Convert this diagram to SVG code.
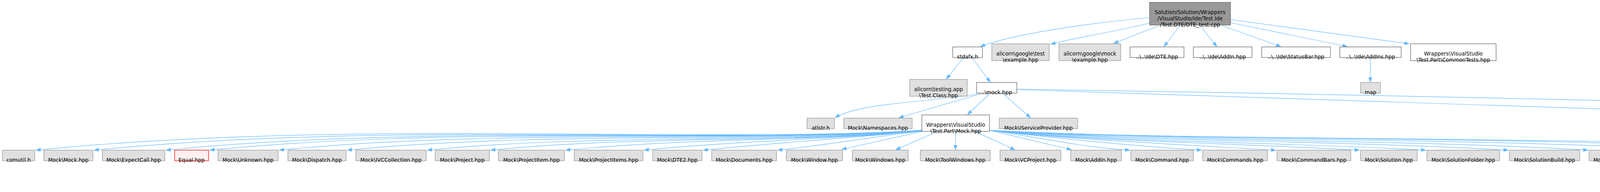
<svg xmlns="http://www.w3.org/2000/svg" width="5907" height="491" viewBox="0 0 5907 491">
<style>
.t{font-family:"DejaVu Sans","Liberation Sans",sans-serif;font-size:13.33px;fill:#000;text-anchor:middle}
.w{fill:#fff;stroke:#666;stroke-width:1.3}
.g{fill:#e0e0e0;stroke:#999;stroke-width:1.3}
.r{fill:#fff0f0;stroke:#f00;stroke-width:1.3}
.root{fill:#999;stroke:#666;stroke-width:1.3}
.e{fill:none;stroke:#63b8ff;stroke-width:1.2;marker-end:url(#a)}
</style>
<defs>
<marker id="a" markerWidth="13" markerHeight="10" refX="12" refY="5" orient="auto" markerUnits="userSpaceOnUse"><path d="M0,0.8 L12,5 L0,9.2 z" fill="#63b8ff" stroke="#63b8ff" stroke-width="1"/></marker>
</defs>
<rect width="5907" height="491" fill="#fff"/>
<g id="edges">
<path class="e" d="M2943,45 C2800,58 2600,85 2510,119"/>
<path class="e" d="M2943,59 C2860,80 2760,95 2690,113"/>
<path class="e" d="M2966,66 L2851,111"/>
<path class="e" d="M3020,65 L2980,119"/>
<path class="e" d="M3072,65 L3115,119"/>
<path class="e" d="M3127,65 L3279,119"/>
<path class="e" d="M3150,58 L3449,119"/>
<path class="e" d="M3150,50 L3607,112"/>
<path class="e" d="M2466,148 L2423,202"/>
<path class="e" d="M2489,148 L2535,210"/>
<path class="e" d="M3508,147 L3508,210"/>
<path class="e" d="M2512,239 C2380,262 2200,262 2138,301"/>
<path class="e" d="M2510,240 L2301,301"/>
<path class="e" d="M2533,240 L2477,293"/>
<path class="e" d="M2566,238 L2638,301"/>
<path class="e" d="M2603,229 L5022,309"/>
<path class="e" d="M2603,228 C4000,250 5200,282 5292,301"/>
<path class="e" d="M2360,333 C1793,368 886,304 92,384"/>
<path class="e" d="M2360,333 C1830,368 983,310 241,384"/>
<path class="e" d="M2360,333 C1876,368 1102,316 425,384"/>
<path class="e" d="M2360,333 C1904,368 1175,320 537,384"/>
<path class="e" d="M2360,333 C1949,368 1291,326 715,384"/>
<path class="e" d="M2360,333 C1992,368 1404,333 889,384"/>
<path class="e" d="M2360,333 C2044,368 1537,340 1094,384"/>
<path class="e" d="M2360,334 C2084,366 1642,345 1256,384"/>
<path class="e" d="M2360,334 C2132,360 1767,352 1448,384"/>
<path class="e" d="M2360,335 C2182,354 1898,359 1649,384"/>
<path class="e" d="M2360,335 C2220,350 1996,364 1800,384"/>
<path class="e" d="M2360,336 C2268,344 2120,371 1991,384"/>
<path class="e" d="M2362,336 L2155,382"/>
<path class="e" d="M2398,337 L2293,383"/>
<path class="e" d="M2446,336 L2446,383"/>
<path class="e" d="M2498,337 L2598,383"/>
<path class="e" d="M2533,333 L2743,383"/>
<path class="e" d="M2531,333 C2621,344 2766,377 2892,384"/>
<path class="e" d="M2531,333 C2667,349 2885,373 3076,384"/>
<path class="e" d="M2531,333 C2715,355 3009,369 3266,384"/>
<path class="e" d="M2531,333 C2768,361 3148,365 3480,384"/>
<path class="e" d="M2531,333 C2811,363 3258,362 3650,384"/>
<path class="e" d="M2531,333 C2864,363 3395,357 3861,384"/>
<path class="e" d="M2531,333 C2915,363 3528,353 4065,384"/>
<path class="e" d="M2531,333 C2980,363 3698,348 4326,384"/>
<path class="e" d="M2531,333 C3037,363 3847,344 4555,384"/>
<path class="e" d="M2531,333 C3093,363 3991,344 4777,384"/>
<path class="e" d="M5105,337 L5046,383"/>
<path class="e" d="M5170,337 L5240,383"/>
<path class="e" d="M5221,337 L5420,384"/>
<path class="e" d="M5247,335 L5636,384"/>
<path class="e" d="M5135,337 C5140,420 5190,448 5402,466"/>
<path class="e" d="M5480,411 L5480,458"/>
<path class="e" d="M5703,412 L5532,459"/>
</g>
<g id="n_root"><rect class="root" x="2943" y="6" width="207" height="58"/><text class="t" x="3046.5" y="35.5">Solution/Solution/Wrappers</text><text class="t" x="3046.5" y="51.5">/VisualStudio/Ide/Test.Ide</text><text class="t" x="3046.5" y="67.5">/Test.DTE/DTE_test.cpp</text></g>
<g id="n_stdafx"><rect class="w" x="2439" y="120" width="76" height="27"/><text class="t" x="2477" y="150">stdafx.h</text></g>
<g id="n_gtest"><rect class="g" x="2539" y="112" width="147" height="43"/><text class="t" x="2612.5" y="142">alicorn\google\test</text><text class="t" x="2612.5" y="158">\example.hpp</text></g>
<g id="n_gmock"><rect class="g" x="2711" y="112" width="158" height="43"/><text class="t" x="2790" y="142">alicorn\google\mock</text><text class="t" x="2790" y="158">\example.hpp</text></g>
<g id="n_idedte"><rect class="w" x="2893" y="120" width="138" height="27"/><text class="t" x="2962" y="150">..\..\Ide\DTE.hpp</text></g>
<g id="n_ideaddin"><rect class="w" x="3055" y="120" width="150" height="27"/><text class="t" x="3130" y="150">..\..\Ide\AddIn.hpp</text></g>
<g id="n_idestatusbar"><rect class="w" x="3230" y="120" width="176" height="27"/><text class="t" x="3318" y="150">..\..\Ide\StatusBar.hpp</text></g>
<g id="n_ideaddins"><rect class="w" x="3430" y="120" width="157" height="27"/><text class="t" x="3508.5" y="150">..\..\Ide\AddIns.hpp</text></g>
<g id="n_commontests"><rect class="w" x="3611" y="112" width="219" height="43"/><text class="t" x="3720.5" y="142">Wrappers\VisualStudio</text><text class="t" x="3720.5" y="158">\Test.Part\CommonTests.hpp</text></g>
<g id="n_testclass"><rect class="g" x="2329" y="203" width="147" height="43"/><text class="t" x="2402.5" y="233">alicorn\testing.app</text><text class="t" x="2402.5" y="249">\Test.Class.hpp</text></g>
<g id="n_mockhpp"><rect class="w" x="2500" y="211" width="103" height="27"/><text class="t" x="2551.5" y="241">..\mock.hpp</text></g>
<g id="n_map"><rect class="g" x="3483" y="211" width="51" height="27"/><text class="t" x="3508.5" y="241">map</text></g>
<g id="n_atlstr"><rect class="g" x="2066" y="302" width="70" height="27"/><text class="t" x="2101" y="332">atlstr.h</text></g>
<g id="n_namespaces"><rect class="g" x="2160" y="302" width="175" height="27"/><text class="t" x="2247.5" y="332">Mock\Namespaces.hpp</text></g>
<g id="n_partmock"><rect class="w" x="2360" y="294" width="173" height="42"/><text class="t" x="2446.5" y="323.5">Wrappers\VisualStudio</text><text class="t" x="2446.5" y="339.5">\Test.Part\Mock.hpp</text></g>
<g id="n_isp"><rect class="g" x="2558" y="302" width="201" height="27"/><text class="t" x="2658.5" y="332">Mock\IServiceProvider.hpp</text></g>
<g id="n_commonmock"><rect class="w" x="5024" y="294" width="223" height="42"/><text class="t" x="5135.5" y="323.5">Wrappers\VisualStudio</text><text class="t" x="5135.5" y="339.5">\Common\Common.mock.hpp</text></g>
<g id="n_mockstatusbar"><rect class="g" x="5272" y="302" width="157" height="27"/><text class="t" x="5350.5" y="332">Mock\StatusBar.hpp</text></g>
<g id="n_comutil"><rect class="g" x="6" y="384" width="83" height="27"/><text class="t" x="47.5" y="414">comutil.h</text></g>
<g id="n_mock"><rect class="g" x="112" y="384" width="126" height="27"/><text class="t" x="175" y="414">Mock\Mock.hpp</text></g>
<g id="n_expectcall"><rect class="g" x="262" y="384" width="160" height="27"/><text class="t" x="342" y="414">Mock\ExpectCall.hpp</text></g>
<g id="n_equal"><rect class="r" x="447" y="384" width="87" height="27"/><text class="t" x="490.5" y="414">Equal.hpp</text></g>
<g id="n_unknown"><rect class="g" x="558" y="384" width="154" height="27"/><text class="t" x="635" y="414">Mock\Unknown.hpp</text></g>
<g id="n_dispatch"><rect class="g" x="737" y="384" width="149" height="27"/><text class="t" x="811.5" y="414">Mock\Dispatch.hpp</text></g>
<g id="n_ivccollection"><rect class="g" x="911" y="384" width="180" height="27"/><text class="t" x="1001" y="414">Mock\IVCCollection.hpp</text></g>
<g id="n_project"><rect class="g" x="1114" y="384" width="139" height="27"/><text class="t" x="1183.5" y="414">Mock\Project.hpp</text></g>
<g id="n_projectitem"><rect class="g" x="1276" y="384" width="169" height="27"/><text class="t" x="1360.5" y="414">Mock\ProjectItem.hpp</text></g>
<g id="n_projectitems"><rect class="g" x="1470" y="384" width="176" height="27"/><text class="t" x="1558" y="414">Mock\ProjectItems.hpp</text></g>
<g id="n_dte2"><rect class="g" x="1671" y="384" width="126" height="27"/><text class="t" x="1734" y="414">Mock\DTE2.hpp</text></g>
<g id="n_documents"><rect class="g" x="1822" y="384" width="166" height="27"/><text class="t" x="1905" y="414">Mock\Documents.hpp</text></g>
<g id="n_window"><rect class="g" x="2013" y="384" width="144" height="27"/><text class="t" x="2085" y="414">Mock\Window.hpp</text></g>
<g id="n_windows"><rect class="g" x="2182" y="384" width="143" height="27"/><text class="t" x="2253.5" y="414">Mock\Windows.hpp</text></g>
<g id="n_toolwindows"><rect class="g" x="2356" y="384" width="179" height="27"/><text class="t" x="2445.5" y="414">Mock\ToolWindows.hpp</text></g>
<g id="n_vcproject"><rect class="g" x="2560" y="384" width="156" height="27"/><text class="t" x="2638" y="414">Mock\VCProject.hpp</text></g>
<g id="n_addin"><rect class="g" x="2741" y="384" width="130" height="27"/><text class="t" x="2806" y="414">Mock\AddIn.hpp</text></g>
<g id="n_command"><rect class="g" x="2895" y="384" width="160" height="27"/><text class="t" x="2975" y="414">Mock\Command.hpp</text></g>
<g id="n_commands"><rect class="g" x="3079" y="384" width="166" height="27"/><text class="t" x="3162" y="414">Mock\Commands.hpp</text></g>
<g id="n_commandbars"><rect class="g" x="3269" y="384" width="189" height="27"/><text class="t" x="3363.5" y="414">Mock\CommandBars.hpp</text></g>
<g id="n_solution"><rect class="g" x="3483" y="384" width="145" height="27"/><text class="t" x="3555.5" y="414">Mock\Solution.hpp</text></g>
<g id="n_solutionfolder"><rect class="g" x="3653" y="384" width="186" height="27"/><text class="t" x="3746" y="414">Mock\SolutionFolder.hpp</text></g>
<g id="n_solutionbuild"><rect class="g" x="3864" y="384" width="180" height="27"/><text class="t" x="3954" y="414">Mock\SolutionBuild.hpp</text></g>
<g id="n_solutionconfiguration"><rect class="g" x="4068" y="384" width="236" height="27"/><text class="t" x="4186" y="414">Mock\SolutionConfiguration.hpp</text></g>
<g id="n_solutioncontexts"><rect class="g" x="4329" y="384" width="205" height="27"/><text class="t" x="4431.5" y="414">Mock\SolutionContexts.hpp</text></g>
<g id="n_solutioncontext"><rect class="g" x="4558" y="384" width="199" height="27"/><text class="t" x="4657.5" y="414">Mock\SolutionContext.hpp</text></g>
<g id="n_events"><rect class="g" x="4780" y="384" width="137" height="27"/><text class="t" x="4848.5" y="414">Mock\Events.hpp</text></g>
<g id="n_types"><rect class="w" x="4942" y="384" width="156" height="27"/><text class="t" x="5020" y="414">Common\Types.hpp</text></g>
<g id="n_collection"><rect class="r" x="5173" y="384" width="182" height="27"/><text class="t" x="5264" y="414">Common\Collection.hpp</text></g>
<g id="n_vccollection"><rect class="r" x="5379" y="384" width="201" height="27"/><text class="t" x="5479.5" y="414">Common\VCCollection.hpp</text></g>
<g id="n_sfhelper"><rect class="w" x="5605" y="384" width="297" height="27"/><text class="t" x="5753.5" y="414">Common\SolutionFolderHelper.mock.hpp</text></g>
<g id="n_base"><rect class="r" x="5405" y="459" width="149" height="27"/><text class="t" x="5479.5" y="489">Common\Base.hpp</text></g>
</svg>
